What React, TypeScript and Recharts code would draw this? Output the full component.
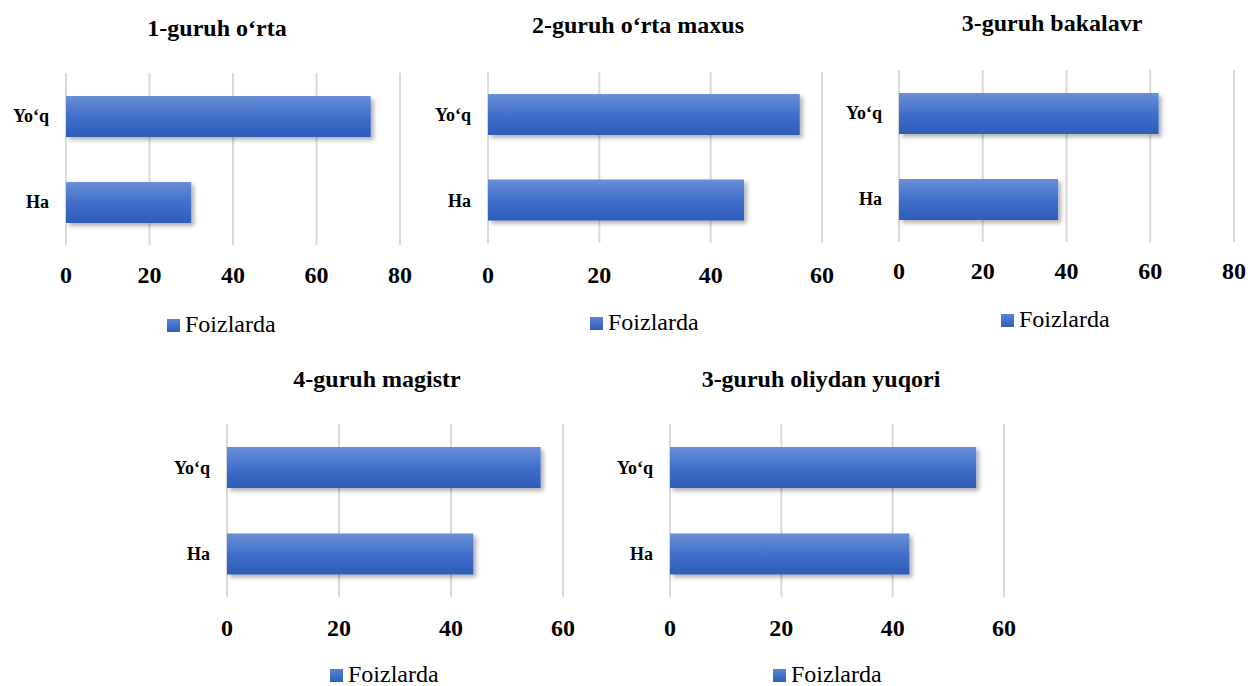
import { BarChart, Bar, XAxis, YAxis, CartesianGrid } from "recharts";

const categories = ["Yo‘q", "Ha"];
const seriesName = "Foizlarda";

const groupTitles = [
  "1-guruh o‘rta",
  "2-guruh o‘rta maxus",
  "3-guruh bakalavr",
  "4-guruh magistr",
  "3-guruh oliydan yuqori",
];

// percentages per group, same order as categories
const ortaValues = [73, 30];
const ortaMaxusValues = [56, 46];
const bakalavrValues = [62, 38];
const magistrValues = [56, 44];
const oliydanYuqoriValues = [55, 43];

const ticks80 = [0, 20, 40, 60, 80];
const ticks60 = [0, 20, 40, 60];

const FONT = '"Liberation Serif", "Times New Roman", serif';
const Y_AXIS_W = 66;
const X_AXIS_H = 44;
const TOP_PAD = 10;

// where each small chart sits on the page
const panels = [
  { plotLeft: 66, plotTop: 73, plotW: 334, plotH: 172, tickMargin: 21, titleX: 217, titleBase: 36, legendX: 167, legendBase: 333 },
  { plotLeft: 488, plotTop: 72, plotW: 334, plotH: 171, tickMargin: 23, titleX: 638, titleBase: 33, legendX: 590, legendBase: 331 },
  { plotLeft: 899, plotTop: 70, plotW: 335, plotH: 172, tickMargin: 20, titleX: 1052, titleBase: 31, legendX: 1001, legendBase: 328 },
  { plotLeft: 227, plotTop: 424, plotW: 336, plotH: 173, tickMargin: 22, titleX: 377, titleBase: 387, legendX: 330, legendBase: 683 },
  { plotLeft: 670, plotTop: 424, plotW: 334, plotH: 173, tickMargin: 22, titleX: 821, titleBase: 387, legendX: 773, legendBase: 683 },
];

const groups = [
  { title: groupTitles[0], values: ortaValues, ticks: ticks80 },
  { title: groupTitles[1], values: ortaMaxusValues, ticks: ticks60 },
  { title: groupTitles[2], values: bakalavrValues, ticks: ticks80 },
  { title: groupTitles[3], values: magistrValues, ticks: ticks60 },
  { title: groupTitles[4], values: oliydanYuqoriValues, ticks: ticks60 },
];

type Panel = (typeof panels)[number];

function GroupChart({
  idx,
  title,
  values,
  ticks,
  pos,
}: {
  idx: number;
  title: string;
  values: number[];
  ticks: number[];
  pos: Panel;
}) {
  const data = categories.map((name, i) => ({ name, value: values[i] }));
  const width = Y_AXIS_W + pos.plotW + 16;
  const height = TOP_PAD + pos.plotH + X_AXIS_H;
  const gradId = `barFill${idx}`;
  const shadowId = `barShadow${idx}`;

  return (
    <>
      <div
        style={{
          position: "absolute",
          left: pos.titleX - 200,
          top: pos.titleBase - 20,
          width: 400,
          textAlign: "center",
          fontFamily: FONT,
          fontWeight: "bold",
          fontSize: 24,
          lineHeight: "24px",
          color: "#000",
        }}
      >
        {title}
      </div>
      <div
        style={{
          position: "absolute",
          left: pos.plotLeft - Y_AXIS_W,
          top: pos.plotTop - TOP_PAD,
        }}
      >
        <BarChart
          width={width}
          height={height}
          data={data}
          layout="vertical"
          margin={{ top: TOP_PAD, right: 16, bottom: 0, left: 0 }}
          style={{ fontFamily: FONT }}
        >
          <defs>
            <linearGradient id={gradId} x1="0" y1="0" x2="0" y2="1">
              <stop offset="0%" stopColor="#6a8fd6" />
              <stop offset="50%" stopColor="#416fcb" />
              <stop offset="100%" stopColor="#2e5cb8" />
            </linearGradient>
            <filter id={shadowId} x="-10%" y="-20%" width="130%" height="160%">
              <feDropShadow dx="3" dy="3" stdDeviation="2" floodColor="#000" floodOpacity="0.3" />
            </filter>
          </defs>
          <CartesianGrid horizontal={false} stroke="#d9d9d9" strokeWidth={2} />
          <XAxis
            type="number"
            domain={[ticks[0], ticks[ticks.length - 1]]}
            ticks={ticks}
            height={X_AXIS_H}
            axisLine={false}
            tickLine={false}
            tickSize={0}
            tickMargin={pos.tickMargin}
            tick={{ fill: "#000", fontFamily: FONT, fontWeight: "bold", fontSize: 24 }}
          />
          <YAxis
            type="category"
            dataKey="name"
            width={Y_AXIS_W}
            axisLine={false}
            tickLine={false}
            tickSize={0}
            tickMargin={17}
            tick={{ fill: "#000", fontFamily: FONT, fontWeight: "bold", fontSize: 18 }}
          />
          <Bar
            dataKey="value"
            name={seriesName}
            fill={`url(#${gradId})`}
            filter={`url(#${shadowId})`}
            barSize={41}
            isAnimationActive={false}
          />
        </BarChart>
      </div>
      <div
        style={{
          position: "absolute",
          left: pos.legendX,
          top: pos.legendBase - 14,
          width: 13,
          height: 13,
          background: "linear-gradient(#5a82d2, #2f5eb9)",
        }}
      />
      <div
        style={{
          position: "absolute",
          left: pos.legendX + 18,
          top: pos.legendBase - 18,
          fontFamily: FONT,
          fontSize: 24,
          lineHeight: "18px",
          color: "#000",
          whiteSpace: "nowrap",
        }}
      >
        {seriesName}
      </div>
    </>
  );
}

export default function App() {
  return (
    <div
      style={{
        position: "absolute",
        left: 0,
        top: 0,
        width: 1248,
        height: 686,
        overflow: "hidden",
        background: "#fff",
      }}
    >
      {groups.map((g, i) => (
        <GroupChart key={i} idx={i} title={g.title} values={g.values} ticks={g.ticks} pos={panels[i]} />
      ))}
    </div>
  );
}
